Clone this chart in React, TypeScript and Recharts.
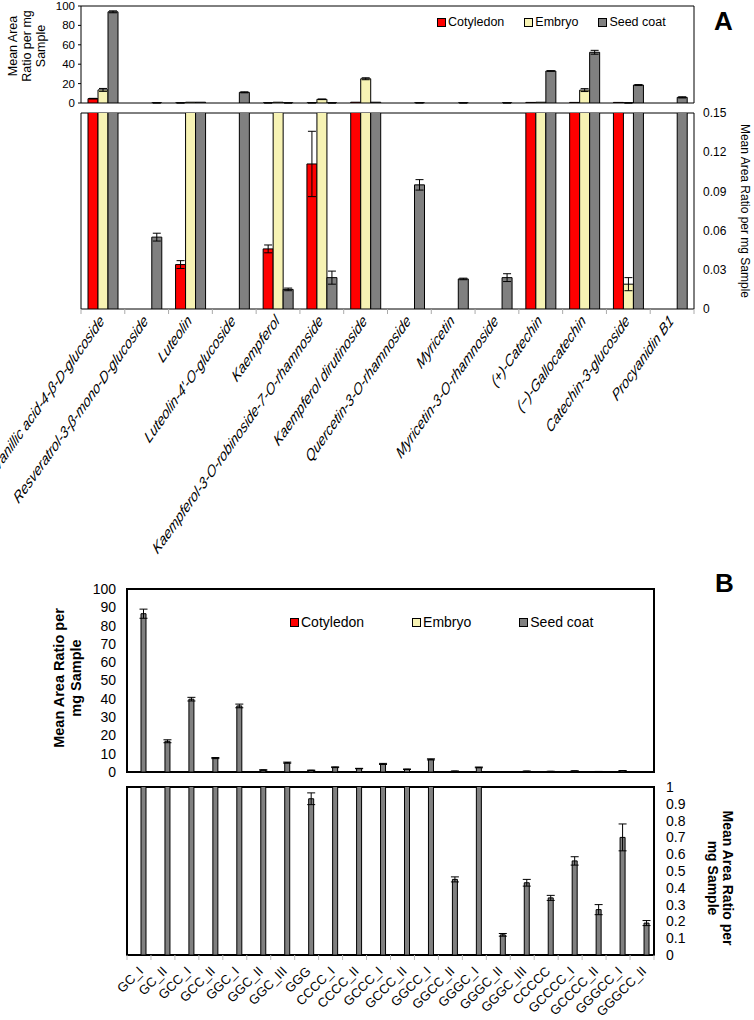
import React from 'react';
import { BarChart, Bar, XAxis, YAxis, ErrorBar, ReferenceArea, Legend } from 'recharts';

const FONT = '"Liberation Sans", Arial, Helvetica, sans-serif';

// ---- panel A: phenolic compounds ----
const compoundsA = [
  'Vanillic acid-4-β-D-glucoside',
  'Resveratrol-3-β-mono-D-glucoside',
  'Luteolin',
  "Luteolin-4'-O-glucoside",
  'Kaempferol',
  'Kaempferol-3-O-robinoside-7-O-rhamnoside',
  'Kaempferol dirutinoside',
  'Quercetin-3-O-rhamnoside',
  'Myricetin',
  'Myricetin-3-O-rhamnoside',
  '(+)-Catechin',
  '(−)-Gallocatechin',
  'Catechin-3-glucoside',
  'Procyanidin B1',
];
const cotyledonA = [4.5, 0, 0.034, 0, 0.046, 0.111, 0.8, 0, 0, 0, 0.6, 0.6, 0.6, 0];
const cotyledonErrA = [0.3, 0, 0.003, 0, 0.003, 0.025, 0, 0, 0, 0, 0, 0, 0, 0];
const embryoA = [13.5, 0, 0.8, 0, 0.8, 3.8, 25, 0, 0, 0, 0.8, 13.3, 0.019, 0];
const embryoErrA = [1.5, 0, 0, 0, 0, 0.3, 1, 0, 0, 0, 0, 1.5, 0.005, 0];
const seedCoatA = [94, 0.055, 0.8, 11, 0.015, 0.024, 0.8, 0.095, 0.023, 0.024, 33, 52.3, 18.5, 5.8];
const seedCoatErrA = [1, 0.003, 0, 0.5, 0.001, 0.005, 0, 0.004, 0.0006, 0.003, 0.3, 2, 0.5, 0.6];
const ticksTopA = [0, 20, 40, 60, 80, 100];
const ticksBottomA = [0, 0.03, 0.06, 0.09, 0.12, 0.15];

// ---- panel B: proanthocyanidin oligomers ----
const oligomersB = [
  'GC_I', 'GC_II', 'GCC_I', 'GCC_II', 'GGC_I', 'GGC_II', 'GGC_III', 'GGG',
  'CCCC_I', 'CCCC_II', 'GCCC_I', 'GCCC_II', 'GGCC_I', 'GGCC_II', 'GGGC_I',
  'GGGC_II', 'GGGC_III', 'CCCCC', 'GCCCC_I', 'GCCCC_II', 'GGGCC_I', 'GGGCC_II',
];
const cotyledonB = [0, 0, 0, 0, 0, 0, 0, 0, 0, 0, 0, 0, 0, 0, 0, 0, 0, 0, 0, 0, 0, 0];
const embryoB = [0, 0, 0, 0, 0, 0, 0, 0, 0, 0, 0, 0, 0, 0, 0, 0, 0, 0, 0, 0, 0, 0];
const seedCoatB = [86.5, 16.8, 39.8, 7.6, 36.1, 1.1, 5.1, 0.93, 2.6, 1.9, 4.4, 1.5, 6.9, 0.45, 2.5, 0.12, 0.43, 0.34, 0.56, 0.27, 0.7, 0.19];
const seedCoatErrB = [2.5, 0.8, 1, 0.3, 1, 0.1, 0.3, 0.035, 0.2, 0.1, 0.3, 0.1, 0.3, 0.015, 0.2, 0.008, 0.02, 0.015, 0.025, 0.03, 0.08, 0.015];
const ticksTopB = [0, 10, 20, 30, 40, 50, 60, 70, 80, 90, 100];
const ticksBottomB = [0, 0.1, 0.2, 0.3, 0.4, 0.5, 0.6, 0.7, 0.8, 0.9, 1];
const MAX_BOTTOM_B = 1;

const COT = '#ff0000';
const EMB = '#f7f3b4';
const SEED = '#808080';

const dataA = compoundsA.map((name, i) => ({
  name,
  cot: cotyledonA[i], cotErr: cotyledonErrA[i],
  emb: embryoA[i], embErr: embryoErrA[i],
  seed: seedCoatA[i], seedErr: seedCoatErrA[i],
}));
const dataB = oligomersB.map((name, i) => ({
  name, cot: cotyledonB[i], emb: embryoB[i], seed: seedCoatB[i], seedErr: seedCoatErrB[i],
  // whiskers of bars cut by the axis break are only shown in the upper part
  seedErrLow: seedCoatB[i] <= MAX_BOTTOM_B ? seedCoatErrB[i] : 0,
}));

// plot boxes (page px)
const A_LEFT = 81, A_RIGHT = 694;
const B_LEFT = 127, B_RIGHT = 654;
const bandA = (A_RIGHT - A_LEFT) / compoundsA.length;
const bandB = (B_RIGHT - B_LEFT) / oligomersB.length;

function legendContent(fontSize: number, gap: number, box: number) {
  return (props: any) => (
    <div style={{ display: 'flex', alignItems: 'center', gap, fontSize, fontFamily: FONT, color: '#000', whiteSpace: 'nowrap', lineHeight: 1 }}>
      {(props.payload || []).map((p: any) => (
        <span key={p.value} style={{ display: 'flex', alignItems: 'center' }}>
          <span style={{ display: 'inline-block', width: box, height: box, background: p.color, border: '1px solid #000', boxSizing: 'border-box', marginRight: 2 }} />
          {p.value}
        </span>
      ))}
    </div>
  );
}

// category ticks sit between groups, labels slanted (panel A is drawn taller, so its labels are stretched)
function slantTick(opts: { n: number; band: number; size: number; italic: boolean; dx: number; dy: number; stretch: number; tickColor: string }) {
  return (props: any) => {
    const { x, y, payload, index } = props;
    const half = opts.band / 2;
    const tx = x + opts.dx;
    const ty = y + opts.dy;
    return (
      <g>
        <line x1={x - half} x2={x - half} y1={y - 5} y2={y} stroke={opts.tickColor} />
        {index === opts.n - 1 && <line x1={x + half} x2={x + half} y1={y - 5} y2={y} stroke={opts.tickColor} />}
        <text x={0} y={0} transform={`translate(${tx},${ty}) scale(1,${opts.stretch}) rotate(-45)`} textAnchor="end" fontSize={opts.size}
          fontStyle={opts.italic ? 'italic' : 'normal'} fill="#000">
          {payload.value}
        </text>
      </g>
    );
  };
}

function RotText({ x, y, angle, lines, size, weight = 'normal', lh }: any) {
  return (
    <text transform={`translate(${x},${y}) rotate(${angle})`} textAnchor="middle" fontSize={size} fontWeight={weight} fill="#000">
      {lines.map((l: string, i: number) => (
        <tspan key={i} x={0} y={(i - (lines.length - 1) / 2) * lh + size * 0.35}>{l}</tspan>
      ))}
    </text>
  );
}

function bars(barSize: number, cotErrKey: string | null, embErrKey: string | null, seedErrKey: string) {
  return [
    <Bar key="cot" dataKey="cot" name="Cotyledon" fill={COT} stroke="#000" strokeWidth={1} barSize={barSize} isAnimationActive={false}>
      {cotErrKey && <ErrorBar dataKey={cotErrKey} width={4} stroke="#000" strokeWidth={1} />}
    </Bar>,
    <Bar key="emb" dataKey="emb" name="Embryo" fill={EMB} stroke="#000" strokeWidth={1} barSize={barSize} isAnimationActive={false}>
      {embErrKey && <ErrorBar dataKey={embErrKey} width={4} stroke="#000" strokeWidth={1} />}
    </Bar>,
    <Bar key="seed" dataKey="seed" name="Seed coat" fill={SEED} stroke="#000" strokeWidth={1} barSize={barSize} isAnimationActive={false}>
      <ErrorBar dataKey={seedErrKey} width={4} stroke="#000" strokeWidth={1} />
    </Bar>,
  ];
}

export default function App() {
  return (
    <div style={{ position: 'absolute', left: 0, top: 0, width: 754, height: 1020, background: '#fff', fontFamily: FONT, overflow: 'hidden' }}>
      {/* A, upper part: 0-100 */}
      <div style={{ position: 'absolute', left: 0, top: 0 }}>
        <BarChart width={754} height={110} data={dataA} margin={{ top: 6, right: 754 - A_RIGHT, bottom: 7, left: 0 }} barGap={0}>
          <XAxis dataKey="name" hide />
          <YAxis width={A_LEFT} domain={[0, 100]} ticks={ticksTopA} interval={0} allowDataOverflow axisLine={false}
            tick={{ fontSize: 11.5, fill: '#000' }} tickSize={3} tickMargin={3} tickLine={{ stroke: '#000' }} />
          {bars(10, 'cotErr', 'embErr', 'seedErr')}
          <ReferenceArea y1={0} y2={100} fill="none" stroke="#000" strokeWidth={1} ifOverflow="visible" />
          <Legend layout="horizontal" verticalAlign="middle" align="center" content={legendContent(12.5, 20, 9)}
            wrapperStyle={{ top: 16, left: 437, width: 240, height: 14 }} />
        </BarChart>
      </div>

      {/* A, lower part: 0-0.15 */}
      <div style={{ position: 'absolute', left: 0, top: 104, width: 754, height: 487, overflow: 'hidden' }}>
        <BarChart width={754} height={485} data={dataA} margin={{ top: 9, right: 0, bottom: 0, left: 0 }} barGap={0}>
          <XAxis dataKey="name" height={280} interval={0} axisLine={false} tickLine={false} tickSize={5} tickMargin={0}
            tick={slantTick({ n: compoundsA.length, band: bandA, size: 12, italic: true, dx: 2, dy: 8, stretch: 1.4, tickColor: '#aaa' })} />
          <YAxis yAxisId="left" width={A_LEFT} domain={[0, 0.15]} ticks={ticksBottomA} interval={0} allowDataOverflow axisLine={false}
            tick={false} tickSize={4} tickLine={{ stroke: '#aaa' }} />
          <YAxis yAxisId="right" orientation="right" width={754 - A_RIGHT} domain={[0, 0.15]} ticks={ticksBottomA} interval={0} allowDataOverflow
            axisLine={false} tickLine={false} tickSize={6} tickMargin={3} tick={{ fontSize: 12, fill: '#000' }} />
          {bars(10, 'cotErr', 'embErr', 'seedErr').map((b) => React.cloneElement(b, { yAxisId: 'left' }))}
          <ReferenceArea yAxisId="left" y1={0} y2={0.15} fill="none" stroke="#000" strokeWidth={1} ifOverflow="visible" />
        </BarChart>
      </div>

      {/* B, upper part: 0-100 */}
      <div style={{ position: 'absolute', left: 0, top: 580 }}>
        <BarChart width={754} height={206} data={dataB} margin={{ top: 9, right: 754 - B_RIGHT, bottom: 14, left: 0 }} barGap={0}>
          <XAxis dataKey="name" hide />
          <YAxis width={B_LEFT} domain={[0, 100]} ticks={ticksTopB} interval={0} allowDataOverflow axisLine={false}
            tick={{ fontSize: 14, fill: '#000' }} tickSize={6} tickMargin={5} tickLine={false} />
          {bars(5, null, null, 'seedErr')}
          <ReferenceArea y1={0} y2={100} fill="none" stroke="#000" strokeWidth={2} ifOverflow="visible" />
          <Legend layout="horizontal" verticalAlign="middle" align="center" content={legendContent(14, 48, 9)}
            wrapperStyle={{ top: 35, left: 290, width: 320, height: 16 }} />
        </BarChart>
      </div>

      {/* B, lower part: 0-1 */}
      <div style={{ position: 'absolute', left: 0, top: 778 }}>
        <BarChart width={754} height={242} data={dataB} margin={{ top: 9, right: 0, bottom: 0, left: 0 }} barGap={0}>
          <XAxis dataKey="name" height={65} interval={0} axisLine={false} tickLine={false} tickSize={5} tickMargin={0}
            tick={slantTick({ n: oligomersB.length, band: bandB, size: 13, italic: false, dx: 5, dy: 12, stretch: 1, tickColor: '#bbb' })} />
          <YAxis yAxisId="left" width={B_LEFT} domain={[0, MAX_BOTTOM_B]} ticks={ticksBottomB} interval={0} allowDataOverflow axisLine={false}
            tick={false} tickSize={4} tickLine={{ stroke: '#aaa' }} />
          <YAxis yAxisId="right" orientation="right" width={754 - B_RIGHT} domain={[0, MAX_BOTTOM_B]} ticks={ticksBottomB} interval={0} allowDataOverflow
            axisLine={false} tickLine={false} tickSize={6} tickMargin={6} tick={{ fontSize: 14, fill: '#000' }} />
          {bars(5, null, null, 'seedErrLow').map((b) => React.cloneElement(b, { yAxisId: 'left' }))}
          <ReferenceArea yAxisId="left" y1={0} y2={MAX_BOTTOM_B} fill="none" stroke="#000" strokeWidth={2} ifOverflow="visible" />
        </BarChart>
      </div>

      {/* axis titles and panel letters */}
      <svg width={754} height={1020} style={{ position: 'absolute', left: 0, top: 0, pointerEvents: 'none' }} fontFamily={FONT}>
        <RotText x={27} y={46} angle={-90} size={12.5} lh={14} lines={['Mean Area', 'Ratio per mg', 'Sample']} />
        <RotText x={745} y={211} angle={90} size={12} lh={13} lines={['Mean Area Ratio per mg Sample']} />
        <RotText x={67} y={678} angle={-90} size={14.5} lh={17} weight="bold" lines={['Mean Area Ratio per', 'mg Sample']} />
        <RotText x={720} y={878} angle={90} size={14} lh={15} weight="bold" lines={['Mean Area Ratio per', 'mg Sample']} />
        <text x={714} y={30} fontSize={26} fontWeight="bold" fill="#000">A</text>
        <text x={715} y={592} fontSize={26} fontWeight="bold" fill="#000">B</text>
      </svg>
    </div>
  );
}
